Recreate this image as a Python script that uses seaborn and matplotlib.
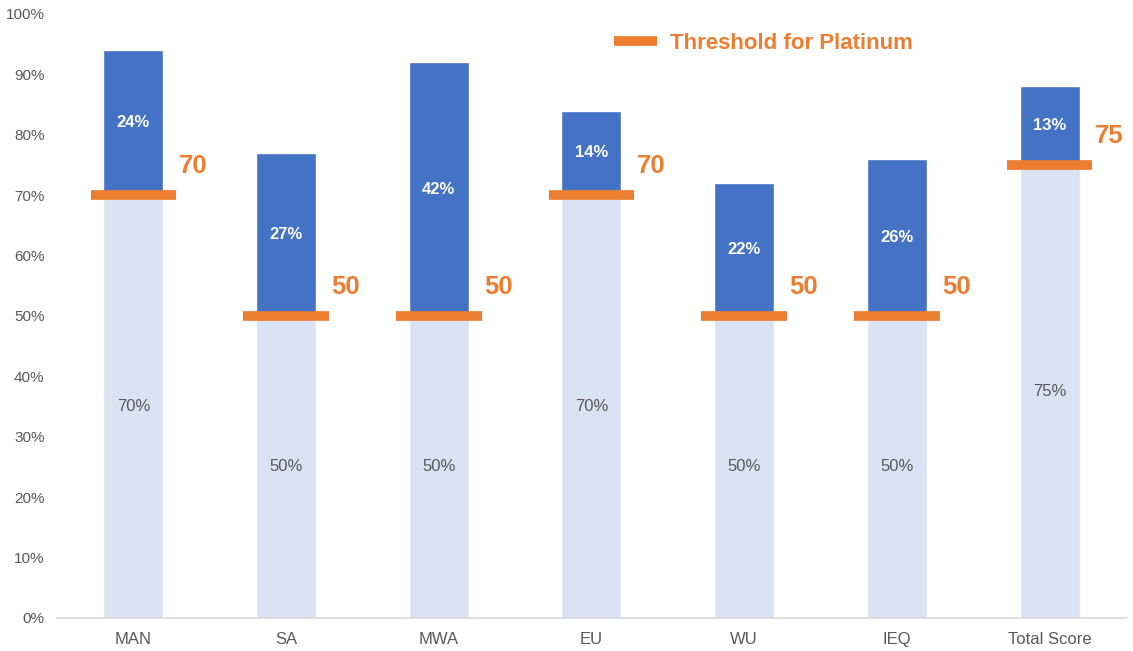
import pandas as pd
import matplotlib.pyplot as plt
import seaborn as sns
from matplotlib.lines import Line2D

# Dữ liệu
categories = ["MAN", "SA", "MWA", "EU", "WU", "IEQ", "Total Score"]
thresholds = [70, 50, 50, 70, 50, 50, 75]
above = [24, 27, 42, 14, 22, 26, 13]
legend_label = "Threshold for Platinum"

DARK = "#4472C4"
LIGHT = "#DAE3F3"
ORANGE = "#ED7D31"
GREY = "#595959"


def main():
    sns.set_theme(style="white")
    plt.rcParams['font.family'] = ['Liberation Sans', 'DejaVu Sans']

    df = pd.DataFrame({"cat": categories, "base": thresholds, "top": above})
    df["total"] = df["base"] + df["top"]

    fig = plt.figure(figsize=(11.33, 6.51), dpi=100)
    ax = fig.add_axes([0.0503, 0.0507, 0.9435, 0.9278])

    # cột tổng (phần trên) rồi phần nền
    sns.barplot(data=df, x="cat", y="total", color=DARK, width=0.393,
                saturation=1, ax=ax)
    sns.barplot(data=df, x="cat", y="base", color=LIGHT, width=0.393,
                saturation=1, ax=ax)

    for i, row in df.iterrows():
        ax.text(i, row["base"] / 2, f"{row['base']}%", ha="center", va="center",
                fontsize=12, color=GREY)
        ax.text(i, row["base"] + row["top"] / 2, f"{row['top']}%", ha="center",
                va="center", fontsize=12, color="white", fontweight="bold")
        # đường ngưỡng
        ax.hlines(row["base"], i - 0.28, i + 0.28, color=ORANGE, lw=7,
                  capstyle="butt", zorder=5)
        ax.text(i + 0.39, row["base"] + 4.8, str(row["base"]), ha="center",
                va="center", fontsize=18.5, color=ORANGE, fontweight="bold")

    ax.set_ylim(0, 100)
    ax.set_xlim(-0.5, len(categories) - 0.5)
    ax.set_yticks(range(0, 101, 10))
    ax.set_yticklabels([f"{v}%" for v in range(0, 101, 10)], fontsize=11, color=GREY)
    ax.tick_params(axis="x", labelsize=12, colors=GREY, length=0, pad=10)
    ax.tick_params(axis="y", length=0, pad=9)
    ax.set_xlabel("")
    ax.set_ylabel("")
    for s in ["top", "right", "left"]:
        ax.spines[s].set_visible(False)
    ax.spines["bottom"].set_color("#D9D9D9")
    ax.spines["bottom"].set_linewidth(1.2)

    handle = Line2D([0], [0], color=ORANGE, lw=7, solid_capstyle="butt")
    leg = ax.legend([handle], [legend_label], loc="center",
                    bbox_to_anchor=(0.661, 0.951), frameon=False,
                    handlelength=1.95, handletextpad=0.6,
                    prop={"size": 16, "weight": "bold"})
    for t in leg.get_texts():
        t.set_color(ORANGE)

    plt.savefig("out.png", dpi=100)
    plt.close()


if __name__ == "__main__":
    main()
